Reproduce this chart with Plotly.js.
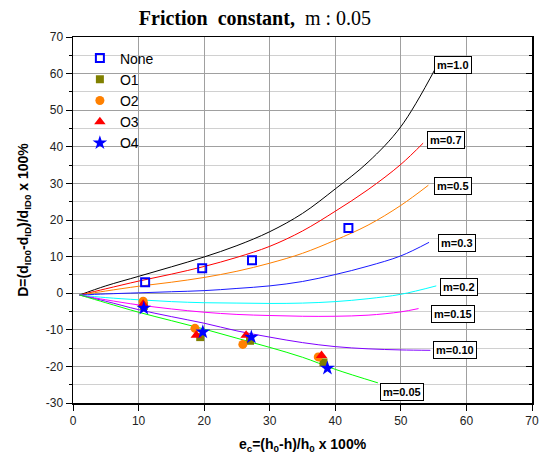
<!DOCTYPE html>
<html>
<head>
<meta charset="utf-8">
<script src="https://cdn.plot.ly/plotly-3.0.1.min.js"></script>
<style>html,body{margin:0;padding:0;background:#fff;}#chart{width:547px;height:464px;}</style>
</head>
<body>
<div id="chart"></div>
<script>
// Simulated curves (friction factor m)
const curveNames = ["m=1.0","m=0.7","m=0.5","m=0.3","m=0.2","m=0.15","m=0.10","m=0.05"];
const curveColors = ["#000000","#ff0000","#ff8000","#1a1aff","#00ffff","#ff00ff","#8000ff","#00ff00"];
const x_m10 = [1,5,10,15,20,25,30,35,40,45,50,55.3];
const y_m10 = [-0.5,2.0,4.6,7.2,9.9,13.0,16.8,21.8,28.5,35.8,45.5,61.5];
const x_m07 = [1,5,10,15,20,25,30,35,40,45,50,53.4];
const y_m07 = [-0.5,1.2,3.3,5.2,7.3,9.8,12.8,17.0,22.4,28.3,35.2,41];
const x_m05 = [1,5,10,15,20,25,30,35,40,45,50,54.2];
const y_m05 = [-0.5,0.6,1.9,3.0,4.3,6.0,8.2,10.9,14.5,18.6,24,29.5];
const x_m03 = [1,5,10,15,20,25,30,35,40,45,50,54.3];
const y_m03 = [-0.5,-0.2,0.1,0.4,0.7,1.3,2.0,3.2,5.1,7.4,10.2,13.9];
const x_m02 = [1,5,10,15,20,25,30,35,40,45,50,55.4];
const y_m02 = [-0.5,-1.2,-1.8,-2.3,-2.6,-2.7,-2.8,-2.7,-2.3,-1.5,-0.3,2.0];
const x_m015 = [1,5,10,15,20,25,30,35,40,45,50,52.7];
const y_m015 = [-0.5,-1.8,-3.2,-4.3,-5.2,-5.8,-6.1,-6.3,-6.3,-6.0,-5.1,-4.2];
const x_m010 = [1,5,10,15,20,25,30,35,40,45,50,54.5];
const y_m010 = [-0.5,-2.2,-4.5,-6.4,-8.2,-10.3,-12.0,-13.5,-14.6,-15.2,-15.5,-15.6];
const x_m005 = [1,5,10,15,20,25,30,35,40,46.5];
const y_m005 = [-0.5,-2.6,-5.2,-7.5,-9.8,-12.3,-14.8,-17.5,-20.8,-24.5];

// Experimental points
const x_none = [11, 19.7, 27.3, 42];
const y_none = [3.0, 6.8, 9.0, 17.8];
const x_o1 = [10.8, 19.4, 27.0, 38.2];
const y_o1 = [-3.5, -12.0, -13.0, -18.9];
const x_o2 = [10.7, 18.6, 25.9, 37.4];
const y_o2 = [-2.2, -9.6, -14.0, -17.4];
const x_o3 = [10.7, 18.8, 26.4, 37.9];
const y_o3 = [-3.0, -11.5, -11.5, -17.0];
const x_o4 = [10.8, 19.8, 27.2, 38.8];
const y_o4 = [-4.1, -10.6, -12.0, -20.5];

// Curve label positions
const labelX = [57.9, 56.9, 57.9, 58.6, 58.9, 57.9, 58.3, 50.2];
const labelY = [62.3, 41.8, 29.2, 13.7, 1.6, -5.7, -15.6, -27.0];

const curveX = [x_m10,x_m07,x_m05,x_m03,x_m02,x_m015,x_m010,x_m005];
const curveY = [y_m10,y_m07,y_m05,y_m03,y_m02,y_m015,y_m010,y_m005];

const traces = [];
for (let i = 0; i < curveNames.length; i++) {
  traces.push({x: curveX[i], y: curveY[i], mode: 'lines', name: curveNames[i], showlegend: false,
    line: {color: curveColors[i], width: 1, shape: 'spline', smoothing: 1}, hoverinfo: 'skip'});
}
traces.push({x: x_none, y: y_none, mode: 'markers', name: 'None',
  marker: {symbol: 'square-open', size: 8, color: '#0000ff', line: {width: 2, color: '#0000ff'}}});
traces.push({x: x_o1, y: y_o1, mode: 'markers', name: 'O1',
  marker: {symbol: 'square', size: 8, color: '#808000'}});
traces.push({x: x_o2, y: y_o2, mode: 'markers', name: 'O2',
  marker: {symbol: 'circle', size: 9, color: '#ff8000'}});
traces.push({x: x_o3, y: y_o3, mode: 'markers', name: 'O3',
  marker: {symbol: 'triangle-up', size: 10, color: '#ff0000'}});
traces.push({x: x_o4, y: y_o4, mode: 'markers', name: 'O4',
  marker: {symbol: 'star', size: 11, color: '#0000ff'}});
// right axis with inward ticks
traces.push({x: [0], y: [0], yaxis: 'y2', mode: 'markers', showlegend: false,
  marker: {opacity: 0}, hoverinfo: 'skip'});

const annotations = curveNames.map((t, i) => ({
  x: labelX[i], y: labelY[i], xref: 'x', yref: 'y', text: t, showarrow: false,
  font: {family: 'Arial, Liberation Sans, sans-serif', size: 11, color: '#000', weight: 'bold'},
  bgcolor: '#ffffff', bordercolor: '#000000', borderwidth: 1, borderpad: 2
}));

const layout = {
  width: 547, height: 464,
  margin: {l: 73, r: 15, t: 37, b: 61},
  paper_bgcolor: '#ffffff', plot_bgcolor: '#ffffff',
  title: {text: '<b>Friction  constant,</b>  m : 0.05', x: 0.466, xanchor: 'center', y: 0.962, yanchor: 'middle',
    font: {family: 'Liberation Serif, Times New Roman, serif', size: 20, color: '#000'}},
  xaxis: {range: [0, 70], tickvals: [0,10,20,30,40,50,60,70], ticktext: ['0','10','20','30','40','50','60','70'],
    ticks: 'outside', ticklen: 6, tickwidth: 1, tickcolor: '#000',
    showline: true, linecolor: '#000', linewidth: 1.5, mirror: true,
    showgrid: true, gridcolor: '#a0a0a0', gridwidth: 1, zeroline: false,
    tickfont: {family: 'Arial, Liberation Sans, sans-serif', size: 12, color: '#222'},
    title: {text: '<b>e<sub>c</sub>=(h<sub>0</sub>-h)/h<sub>0</sub> x 100%</b>', standoff: 12,
      font: {family: 'Arial, Liberation Sans, sans-serif', size: 14, color: '#000'}}},
  yaxis: {range: [-30, 70], tickvals: [-30,-20,-10,0,10,20,30,40,50,60,70],
    ticktext: ['-30','-20','-10','0','10','20','30','40','50','60','70'],
    ticks: 'outside', ticklen: 6, tickwidth: 1, tickcolor: '#000',
    showline: true, linecolor: '#000', linewidth: 1.5, mirror: true,
    showgrid: true, gridcolor: '#a0a0a0', gridwidth: 1, zeroline: false,
    minor: {dtick: 5, ticks: 'outside', ticklen: 3, tickcolor: '#000', showgrid: true, gridcolor: '#d0d0d0', gridwidth: 1},
    tickfont: {family: 'Arial, Liberation Sans, sans-serif', size: 12, color: '#222'},
    title: {text: '<b>D=(d<sub>ID0</sub>-d<sub>ID</sub>)/d<sub>ID0</sub> x 100%</b>', standoff: 14,
      font: {family: 'Arial, Liberation Sans, sans-serif', size: 14, color: '#000'}}},
  yaxis2: {range: [-30, 70], overlaying: 'y', side: 'right', tickvals: [-30,-20,-10,0,10,20,30,40,50,60,70],
    showticklabels: false, ticks: 'inside', ticklen: 6, tickcolor: '#000', showgrid: false, zeroline: false,
    minor: {dtick: 5, ticks: 'inside', ticklen: 3, tickcolor: '#000'}},
  legend: {x: 0.015, y: 0.985, xanchor: 'left', yanchor: 'top', bgcolor: 'rgba(0,0,0,0)',
    font: {family: 'Arial, Liberation Sans, sans-serif', size: 14, color: '#000'}, tracegroupgap: 0},
  annotations: annotations,
  showlegend: true
};

Plotly.newPlot('chart', traces, layout, {displayModeBar: false, staticPlot: true});
</script>
</body>
</html>
